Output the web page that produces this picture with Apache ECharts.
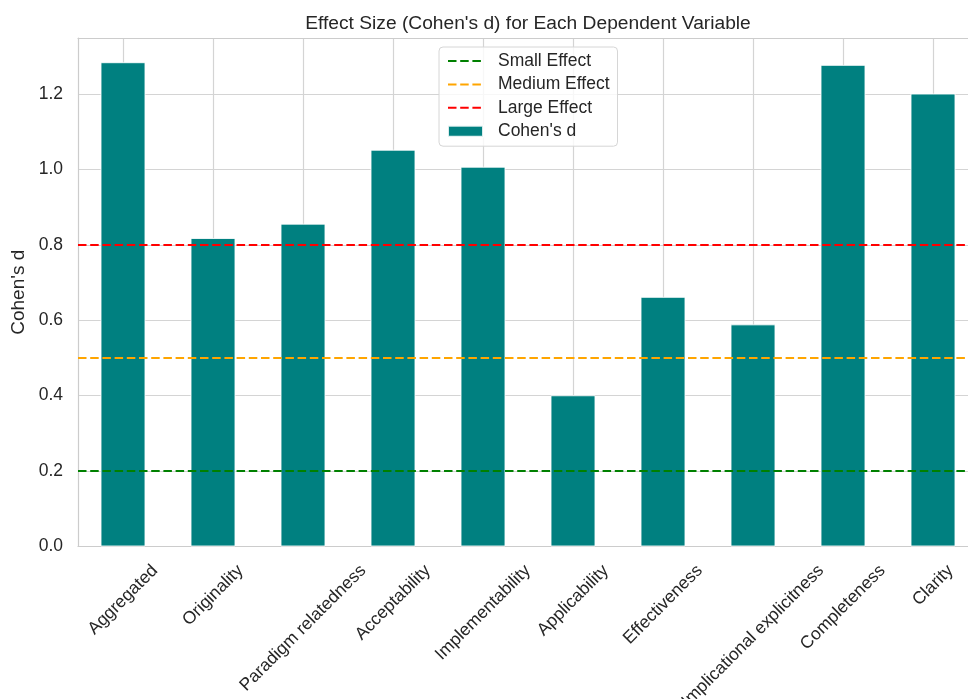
<!DOCTYPE html>
<html><head><meta charset="utf-8">
<script src="https://cdn.jsdelivr.net/npm/echarts@6/dist/echarts.min.js"></script>
<style>html,body{margin:0;padding:0;background:#fff}#c{width:968px;height:699px}</style>
</head><body><div id="c"></div>
<script>
// ---- data ----
const categories = ['Aggregated', 'Originality', 'Paradigm relatedness', 'Acceptability', 'Implementability',
  'Applicability', 'Effectiveness', 'Implicational explicitness', 'Completeness', 'Clarity'];
const cohensD = [1.284, 0.818, 0.856, 1.052, 1.007, 0.401, 0.662, 0.589, 1.277, 1.201];
const thresholdNames = ['Small Effect', 'Medium Effect', 'Large Effect'];
const thresholdValues = [0.2, 0.5, 0.8];
const yTickLabels = ['0.0', '0.2', '0.4', '0.6', '0.8', '1.0', '1.2'];
const barName = "Cohen's d";

// ---- style ----
const thresholdColors = ['#008000', '#FFA500', '#FF0000'];
const FF = 'Liberation Sans';
const FS = 17.5;
const TXT = '#262626';
const GRIDC = '#d4d4d4';
const SPINE = '#cccccc';
const gridLeft = 78, gridTop = 38, gridBottom = 152.5, gridRight = -10;
const chartW = 968;
const plotCenterX = gridLeft + (chartW - gridLeft - gridRight) / 2;

// rotated category labels centred under their ticks (matplotlib style)
const ctx = document.createElement('canvas').getContext('2d');
ctx.font = FS + 'px ' + FF;
const widths = categories.map(c => ctx.measureText(c).width);
const lh = ctx.measureText('国').width;
const wMax = Math.max(...widths);
const K = (wMax - lh) / 2 + 8;
const labelTop = 15;
const labelMargin = labelTop - 0.7071 * K;
const rich = {};
categories.forEach((c, i) => {
  const d = (widths[i] - lh) / 2;
  rich['l' + i] = { fontSize: FS, fontFamily: FF, color: TXT, padding: [(K + d) / 2, (K - d) / 2, 0, 0] };
});
const helperCats = categories.flatMap((c, i) => i === 0 ? ['|0', c, '|1'] : [c, '|' + (i + 1)]);

const dash = [8.5, 3.7];
const noSymbol = { color: 'rgba(0,0,0,0)', borderColor: 'rgba(0,0,0,0)', borderWidth: 0, opacity: 0 };
const chart = echarts.init(document.getElementById('c'), null, { renderer: 'canvas' });
chart.setOption({
  animation: false,
  backgroundColor: '#ffffff',
  title: {
    text: "Effect Size (Cohen's d) for Each Dependent Variable",
    left: plotCenterX, top: 14, padding: 0, textAlign: 'center',
    textStyle: { fontSize: 19.2, fontWeight: 'normal', color: TXT, fontFamily: FF }
  },
  legend: {
    orient: 'vertical', left: 439, top: 47, padding: [5, 8, 6, 8],
    itemWidth: 35, itemHeight: 11, itemGap: 5.4,
    backgroundColor: 'rgba(255,255,255,0.8)', borderColor: '#d6d6d6', borderWidth: 1, borderRadius: 4,
    textStyle: { fontSize: FS, color: TXT, fontFamily: FF, padding: [0, 0, 0, 10] },
    data: thresholdNames.map(n => ({ name: n, itemStyle: noSymbol })).concat([{ name: barName, icon: 'rect' }])
  },
  grid: { left: gridLeft, top: gridTop, bottom: gridBottom, right: gridRight, outerBoundsMode: 'none', containLabel: false },
  xAxis: [
    {
      type: 'category', data: categories, position: 'bottom', boundaryGap: true,
      axisLine: { show: true, lineStyle: { color: SPINE, width: 1.2 } },
      axisTick: { show: false }, splitLine: { show: false },
      axisLabel: {
        interval: 0, rotate: 45, align: 'right', verticalAlign: 'top', margin: labelMargin,
        formatter: (v, i) => '{l' + i + '|' + v + '}', rich: rich
      }
    },
    {
      type: 'category', data: helperCats, position: 'top', boundaryGap: false,
      axisLine: { show: true, lineStyle: { color: SPINE, width: 1.2 } },
      axisTick: { show: false }, axisLabel: { show: false },
      splitLine: { show: true, interval: (i) => i % 2 === 1, lineStyle: { color: GRIDC, width: 1.2 } }
    }
  ],
  yAxis: {
    type: 'value', min: 0, max: Math.max(...cohensD) * 1.05, interval: 0.2,
    axisLine: { show: true, lineStyle: { color: SPINE, width: 1.2 } },
    axisTick: { show: false },
    splitLine: { show: true, lineStyle: { color: GRIDC, width: 1.2 } },
    axisLabel: {
      margin: 15, fontSize: FS, color: TXT, fontFamily: FF, padding: [3, 0, 0, 0],
      formatter: v => { const i = Math.round(v / 0.2); return Math.abs(v - i * 0.2) < 1e-6 ? (yTickLabels[i] || '') : ''; }
    },
    name: "Cohen's d", nameLocation: 'middle', nameGap: 45,
    nameTextStyle: { fontSize: 19, color: TXT, fontFamily: FF }
  },
  series: thresholdNames.map((n, i) => ({
    name: n, type: 'line', data: [], symbol: 'none', color: thresholdColors[i],
    lineStyle: { color: thresholdColors[i], type: dash, width: 2 },
    markLine: {
      silent: true, symbol: ['none', 'none'], label: { show: false },
      lineStyle: { color: thresholdColors[i], type: dash, width: 2 },
      data: [{ yAxis: thresholdValues[i] }]
    }
  })).concat([{
    name: barName, type: 'bar', data: cohensD, barWidth: '50%', xAxisIndex: 0,
    itemStyle: { color: '#008080', borderColor: 'rgba(255,255,255,0.85)', borderWidth: 1 }
  }])
});
</script></body></html>
